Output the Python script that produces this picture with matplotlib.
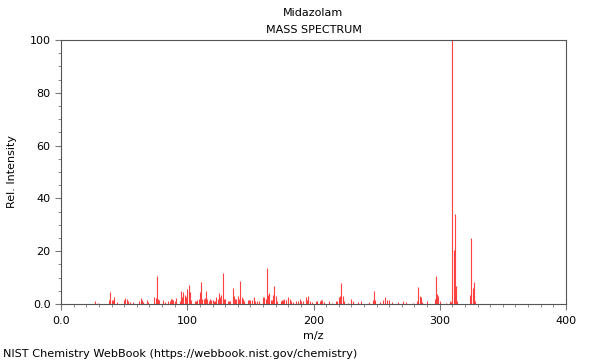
import matplotlib
matplotlib.use("Agg")
import matplotlib.pyplot as plt
from matplotlib.ticker import MultipleLocator, FuncFormatter

# peak positions (m/z) and relative intensities
mz = [27, 29, 38, 39, 40, 41, 42, 44, 50, 51, 52, 53, 55, 57, 62, 63, 64, 65,
      68, 69, 74, 75, 76, 77, 78, 81, 82, 85, 86, 87, 88, 89, 90, 91, 94, 95,
      96, 97, 98, 99, 100, 101, 102, 103, 106, 107, 108, 109, 110, 111, 112,
      113, 114, 115, 116, 117, 118, 119, 120, 121, 122, 123, 124, 125, 126,
      127, 128, 129, 130, 132, 133, 134, 136, 137, 138, 139, 140, 141, 142,
      143, 144, 145, 148, 149, 150, 151, 153, 154, 155, 157, 160, 161, 162,
      163, 164, 165, 166, 167, 168, 169, 170, 171, 174, 175, 176, 177, 178,
      180, 181, 182, 184, 186, 188, 189, 190, 192, 194, 195, 196, 197, 199,
      202, 203, 205, 206, 207, 208, 212, 215, 218, 219, 220, 221, 222, 223,
      224, 227, 230, 231, 235, 238, 244, 247, 248, 249, 253, 255, 257, 258,
      260, 262, 267, 271, 273, 279, 282, 283, 284, 285, 286, 290, 296, 297,
      298, 299, 300, 305, 308, 309, 310, 311, 312, 313, 314, 324, 325, 326,
      327, 328]
intensity = [1.0, 0.5, 1.5, 4.4, 1.5, 1.5, 2.8, 0.8, 1.5, 2.3, 1.8, 1.2, 0.6,
             0.8, 1.0, 2.4, 1.5, 0.8, 1.5, 0.7, 2.8, 2.2, 10.5, 2.0, 1.5, 1.5,
             0.8, 1.2, 1.0, 2.0, 2.0, 1.5, 1.0, 2.3, 1.2, 4.9, 2.5, 4.4, 3.4,
             2.5, 5.6, 7.2, 4.7, 1.5, 1.0, 1.0, 1.5, 2.0, 4.5, 8.2, 2.0, 2.0,
             2.4, 5.0, 2.0, 1.0, 2.0, 1.5, 1.5, 1.0, 1.2, 2.8, 2.0, 4.0, 2.5,
             3.5, 11.9, 2.0, 2.0, 1.0, 1.0, 1.0, 6.0, 3.0, 2.0, 2.0, 3.0, 2.0,
             8.6, 2.5, 2.0, 1.0, 1.5, 1.5, 1.5, 1.5, 2.6, 1.0, 1.0, 1.0, 2.5,
             2.5, 2.0, 13.5, 3.5, 4.0, 1.5, 1.5, 3.5, 6.8, 3.0, 1.0, 1.0, 1.5,
             1.5, 2.0, 1.5, 2.7, 2.0, 1.0, 0.8, 1.0, 1.0, 2.0, 1.0, 1.0, 2.5,
             1.5, 3.0, 1.0, 0.8, 1.0, 1.0, 1.0, 1.5, 1.5, 0.8, 1.0, 0.5, 1.0,
             1.0, 2.5, 3.0, 8.0, 3.0, 1.0, 0.5, 2.0, 1.0, 0.8, 1.0, 0.8, 1.5,
             5.0, 1.5, 0.8, 1.5, 2.5, 1.5, 1.5, 0.6, 0.8, 1.0, 0.8, 0.5, 1.0,
             6.5, 3.0, 2.5, 0.8, 1.0, 2.0, 10.6, 3.8, 3.0, 1.0, 0.5, 1.0, 0.8,
             100.0, 20.4, 34.0, 6.8, 1.0, 3.4, 25.1, 6.2, 8.5, 1.0]

fig = plt.figure(figsize=(6, 3.6), dpi=100)
ax = fig.add_axes([0.1017, 0.1556, 0.8416, 0.7333])

ax.vlines(mz, 0, intensity, colors="#ff2020", linewidth=0.8, alpha=0.85)

ax.set_xlim(0, 400)
ax.set_ylim(0, 100)
ax.xaxis.set_major_locator(MultipleLocator(100))
ax.xaxis.set_minor_locator(MultipleLocator(10))
ax.yaxis.set_major_locator(MultipleLocator(20))
ax.yaxis.set_minor_locator(MultipleLocator(5))
fmt = FuncFormatter(lambda v, p: "0.0" if v == 0 else f"{v:.0f}")
ax.xaxis.set_major_formatter(fmt)
ax.yaxis.set_major_formatter(fmt)
ax.tick_params(which="both", direction="out", color="#777777", labelsize=8)
ax.tick_params(which="major", length=4)
ax.tick_params(which="minor", length=2.5)
ax.tick_params(axis="x", pad=4.5)
for s in ax.spines.values():
    s.set_color("#555555")
    s.set_linewidth(0.8)

ax.set_xlabel("m/z", fontsize=8, labelpad=3.5)
ax.set_ylabel("Rel. Intensity", fontsize=8, labelpad=9)
fig.text(0.5225, 0.963, "Midazolam", ha="center", va="center", fontsize=8)
fig.text(0.5225, 0.916, "MASS SPECTRUM", ha="center", va="center", fontsize=8)
fig.text(0.005, 0.018, "NIST Chemistry WebBook (https://webbook.nist.gov/chemistry)",
         ha="left", va="center", fontsize=8.1)

fig.savefig("out.png", dpi=100)
